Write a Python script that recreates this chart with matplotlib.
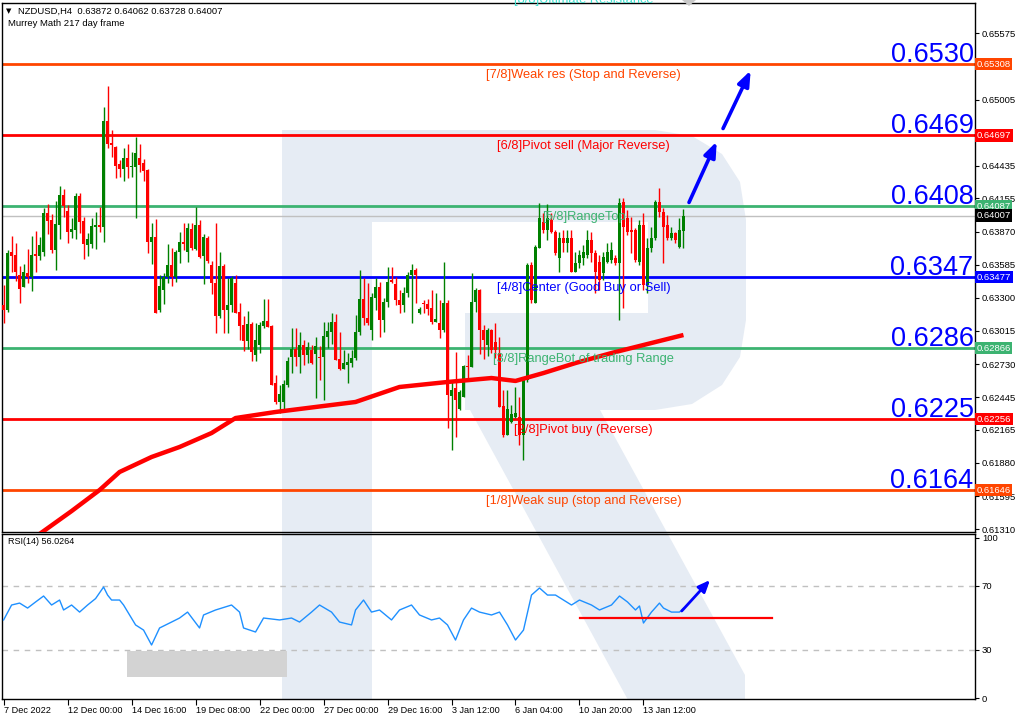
import matplotlib
matplotlib.use('Agg')
import matplotlib.pyplot as plt
import numpy as np
from matplotlib.patches import Polygon, Rectangle
import matplotlib.transforms as mtransforms

# ---------------- data ----------------
open_ = [0.63238,0.63195,0.63694,0.63668,0.63496,0.63393,0.63513,0.63479,0.63677,0.63659,
         0.63694,0.64029,0.63969,0.63711,0.63926,0.64184,0.64047,0.63866,0.63883,0.64176,
         0.63960,0.63754,0.63763,0.63909,0.63926,0.63909,0.64820,0.64631,0.64597,0.64451,
         0.64408,0.64502,0.64425,0.64425,0.64502,0.64459,0.64399,0.63780,0.63823,0.63195,
         0.63367,0.63479,0.63582,0.63479,0.63694,0.63780,0.63694,0.63892,0.63720,0.63926,
         0.63659,0.63814,0.63582,0.63427,0.63143,0.63573,0.63195,0.63238,0.63427,0.63178,
         0.63066,0.62928,0.63075,0.62808,0.62894,0.63057,0.63100,0.63057,0.62567,0.62404,
         0.62404,0.62550,0.62791,0.62860,0.62791,0.62894,0.62808,0.62851,0.62817,0.62791,
         0.62791,0.62963,0.63006,0.63092,0.62774,0.62688,0.62722,0.62739,0.62782,0.63006,
         0.63290,0.63126,0.63023,0.63298,0.63393,0.63109,0.63264,0.63453,0.63419,0.63281,
         0.63238,0.63341,0.63496,0.63539,0.63169,0.63255,0.63247,0.63212,0.63092,0.63083,
         0.63023,0.63255,0.62456,0.62524,0.62344,0.62447,0.62713,0.62705,0.63264,0.63367,
         0.63023,0.62894,0.63023,0.62920,0.62825,0.62369,0.62120,0.62232,0.62275,0.62275,
         0.62120,0.62593,0.63582,0.63255,0.63728,0.63952,0.63883,0.63969,0.63866,0.63642,
         0.63814,0.63771,0.63814,0.63522,0.63599,0.63642,0.63668,0.63797,0.63685,0.63608,
         0.63513,0.63608,0.63625,0.63642,0.63599,0.64124,0.63986,0.63883,0.63883,0.63608,
         0.63926,0.63410,0.63728,0.63814,0.64124,0.64038,0.63926,0.63814,0.63857,0.63737,
         0.63872]
high = [0.63410,0.63711,0.63831,0.63771,0.63573,0.63591,0.63720,0.63831,0.63874,0.63823,
        0.64073,0.64107,0.64021,0.64132,0.64262,0.64236,0.64098,0.63986,0.64202,0.64202,
        0.63995,0.63857,0.63986,0.64038,0.64081,0.64941,0.65121,0.64743,0.64605,0.64485,
        0.64588,0.64623,0.64554,0.64683,0.64623,0.64494,0.64408,0.63943,0.63978,0.63496,
        0.63513,0.63763,0.63728,0.63711,0.63866,0.63943,0.63943,0.63943,0.64081,0.63969,
        0.63849,0.63831,0.63616,0.63943,0.63694,0.63591,0.63470,0.63487,0.63496,0.63255,
        0.63143,0.63186,0.63092,0.63083,0.63092,0.63290,0.63290,0.63066,0.62636,0.62550,
        0.62593,0.62791,0.63040,0.63040,0.63006,0.62937,0.62920,0.62894,0.62963,0.62885,
        0.63092,0.63092,0.63169,0.63161,0.63006,0.62851,0.62825,0.62851,0.63152,0.63539,
        0.63470,0.63427,0.63341,0.63470,0.63436,0.63298,0.63565,0.63565,0.63479,0.63367,
        0.63393,0.63522,0.63591,0.63556,0.63221,0.63281,0.63290,0.63367,0.63341,0.63281,
        0.63608,0.63281,0.62576,0.62834,0.62507,0.62722,0.62808,0.63513,0.63384,0.63376,
        0.63066,0.63040,0.63032,0.63083,0.62963,0.62507,0.62507,0.62378,0.62533,0.62447,
        0.62593,0.63599,0.63608,0.63754,0.64115,0.64029,0.64107,0.64029,0.63883,0.63866,
        0.63883,0.63883,0.63883,0.63694,0.63711,0.63754,0.63883,0.63866,0.63711,0.63668,
        0.63694,0.63771,0.63780,0.63668,0.64158,0.64158,0.64055,0.63995,0.63900,0.63969,
        0.64029,0.63814,0.63909,0.64141,0.64245,0.64073,0.64012,0.63909,0.63866,0.63986,
        0.64062]
low = [0.63083,0.63178,0.63522,0.63444,0.63255,0.63393,0.63427,0.63358,0.63522,0.63625,
       0.63659,0.63849,0.63685,0.63539,0.63806,0.63995,0.63771,0.63814,0.63806,0.63857,
       0.63634,0.63659,0.63728,0.63720,0.63866,0.63780,0.64588,0.64511,0.64330,0.64339,
       0.64305,0.64330,0.64339,0.63986,0.64382,0.64305,0.63685,0.63591,0.63169,0.63178,
       0.63247,0.63427,0.63401,0.63436,0.63599,0.63711,0.63608,0.63711,0.63711,0.63642,
       0.63419,0.63599,0.63333,0.62997,0.63126,0.62997,0.62997,0.63178,0.63169,0.62937,
       0.62842,0.62860,0.62756,0.62756,0.62825,0.63040,0.63049,0.62550,0.62387,0.62309,
       0.62318,0.62533,0.62653,0.62713,0.62653,0.62722,0.62739,0.62731,0.62438,0.62593,
       0.62421,0.62868,0.62903,0.62765,0.62679,0.62688,0.62567,0.62705,0.62765,0.62980,
       0.63066,0.63066,0.62937,0.63195,0.62963,0.63006,0.63221,0.63427,0.63238,0.63169,
       0.63178,0.63307,0.63083,0.63255,0.63161,0.63169,0.63152,0.63075,0.63092,0.62954,
       0.63006,0.62180,0.61991,0.62103,0.62335,0.62447,0.62593,0.62705,0.63178,0.62817,
       0.62774,0.62799,0.62825,0.62782,0.62361,0.62103,0.62120,0.62223,0.62266,0.62034,
       0.61905,0.62576,0.63255,0.63255,0.63728,0.63857,0.63797,0.63857,0.63668,0.63522,
       0.63694,0.63694,0.63522,0.63522,0.63556,0.63582,0.63642,0.63608,0.63341,0.63367,
       0.63453,0.63599,0.63599,0.63582,0.63109,0.63212,0.63840,0.63685,0.63608,0.63582,
       0.63367,0.63341,0.63694,0.63797,0.63995,0.63599,0.63797,0.63797,0.63771,0.63728,
       0.63728]
close = [0.63195,0.63685,0.63659,0.63522,0.63376,0.63522,0.63479,0.63668,0.63659,0.63754,
         0.64029,0.63960,0.63711,0.63935,0.64184,0.64090,0.63866,0.63892,0.64176,0.63952,
         0.63763,0.63806,0.63917,0.63926,0.63909,0.64820,0.64623,0.64614,0.64433,0.64408,
         0.64502,0.64425,0.64433,0.64545,0.64442,0.64391,0.63780,0.63823,0.63169,0.63401,
         0.63479,0.63582,0.63479,0.63694,0.63780,0.63763,0.63900,0.63728,0.63926,0.63651,
         0.63823,0.63616,0.63427,0.63143,0.63573,0.63195,0.63238,0.63470,0.63169,0.63057,
         0.62928,0.63075,0.62834,0.62937,0.63066,0.63100,0.63049,0.62550,0.62404,0.62473,
         0.62559,0.62756,0.62860,0.62791,0.62894,0.62808,0.62877,0.62739,0.62885,0.62782,
         0.62971,0.63014,0.63092,0.62765,0.62688,0.62739,0.62748,0.62782,0.63006,0.63290,
         0.63126,0.63083,0.63307,0.63393,0.63109,0.63264,0.63436,0.63436,0.63281,0.63238,
         0.63341,0.63496,0.63539,0.63496,0.63204,0.63247,0.63204,0.63092,0.63118,0.63023,
         0.63255,0.62464,0.62507,0.62421,0.62490,0.62713,0.62705,0.63264,0.63367,0.63023,
         0.62937,0.63023,0.62851,0.62851,0.62361,0.62120,0.62344,0.62301,0.62309,0.62120,
         0.62593,0.63582,0.63281,0.63737,0.63986,0.63883,0.63986,0.63866,0.63685,0.63814,
         0.63771,0.63814,0.63522,0.63599,0.63668,0.63694,0.63797,0.63685,0.63522,0.63453,
         0.63651,0.63694,0.63711,0.63599,0.64115,0.63909,0.63866,0.63866,0.63625,0.63926,
         0.63410,0.63728,0.63814,0.64124,0.64038,0.63909,0.63814,0.63857,0.63797,0.63883,
         0.64007]

# moving average (bar index, value)
ma_idx = [9, 17, 24, 29, 37, 44, 52, 58, 68, 78, 88, 99, 111, 122, 128, 135, 143, 152, 160, 170]
ma_val = [0.61269, 0.61466, 0.61647, 0.61802, 0.61931, 0.62017, 0.62137, 0.62266, 0.62318,
          0.62361, 0.62404, 0.62533, 0.62576, 0.62610, 0.62585, 0.62653, 0.62739, 0.62825,
          0.62894, 0.62980]

# RSI(14) readings (bar index, value)
rsi_idx = [0, 2, 4, 6, 8, 10, 12, 14, 15, 17, 19, 21, 23, 25, 26, 27, 29, 30, 33, 35, 37, 39,
           42, 44, 46, 49, 50, 53, 57, 59, 60, 63, 65, 69, 72, 74, 77, 79, 82, 84, 87, 88, 90,
           92, 94, 97, 99, 102, 104, 107, 109, 111, 113, 115, 117, 119, 122, 124, 126, 128,
           130, 132, 134, 136, 138, 140, 142, 144, 147, 149, 152, 154, 156, 158, 159, 160,
           162, 164, 165, 167, 169, 170]
rsi_val = [48.7, 58.0, 59.2, 56.1, 59.9, 63.6, 58.0, 61.1, 54.9, 58.0, 53.6, 58.0, 62.0, 69.2,
           64.2, 61.1, 61.1, 58.0, 45.6, 42.4, 33.1, 43.7, 47.4, 49.9, 53.6, 43.7, 51.8, 54.9,
           58.0, 53.6, 43.7, 41.2, 49.9, 48.7, 49.9, 47.4, 53.6, 58.0, 53.6, 47.4, 45.6, 54.9,
           61.1, 53.6, 54.9, 48.7, 54.9, 58.0, 51.8, 48.7, 49.9, 45.6, 36.2, 48.7, 56.1, 53.6,
           51.8, 53.6, 45.6, 36.2, 42.4, 64.2, 68.6, 64.2, 64.2, 61.1, 58.0, 61.1, 58.0, 54.9,
           58.0, 63.6, 59.9, 54.9, 57.4, 46.8, 53.6, 59.2, 56.1, 53.6, 53.6, 56.0264]

# Murrey Math levels
mm_levels = [0.65308, 0.64697, 0.64087, 0.63477, 0.62866, 0.62256, 0.61646]
mm_short = ['0.6530', '0.6469', '0.6408', '0.6347', '0.6286', '0.6225', '0.6164']
mm_names = ['[7/8]Weak res (Stop and Reverse)', '[6/8]Pivot sell (Major Reverse)',
            '[5/8]RangeTop', '[4/8]Center (Good Buy or Sell)',
            '[3/8]RangeBot of trading Range', '[2/8]Pivot buy (Reverse)',
            '[1/8]Weak sup (stop and Reverse)']
mm_colors = ['#FF4500', '#FF0000', '#3CB371', '#0000FF', '#3CB371', '#FF0000', '#FF4500']
top_name = '[8/8]Ultimate Resistance'
last_price = 0.64007

price_ticks = [0.65575, 0.65290, 0.65005, 0.64720, 0.64435, 0.64155, 0.63870, 0.63585,
               0.63300, 0.63015, 0.62730, 0.62445, 0.62165, 0.61880, 0.61595, 0.61310]
hidden_ticks = [0.65290, 0.64720]
date_ticks = [0, 16, 32, 48, 64, 80, 96, 112, 128, 144, 160]
date_labels = ['7 Dec 2022', '12 Dec 00:00', '14 Dec 16:00', '19 Dec 08:00', '22 Dec 00:00',
               '27 Dec 00:00', '29 Dec 16:00', '3 Jan 12:00', '6 Jan 04:00', '10 Jan 20:00',
               '13 Jan 12:00']

# ---------------- figure ----------------
W, H = 1021, 721
plt.rcParams['font.family'] = ['Liberation Sans', 'DejaVu Sans']
fig = plt.figure(figsize=(W / 100, H / 100), dpi=100)
fig.patch.set_facecolor('white')


def fx(x):
    return x / W


def fy(y):
    return 1 - y / H


def add_shape(pts, color, z=-5):
    fig.patches.append(Polygon([(fx(x), fy(y)) for x, y in pts], closed=True,
                               transform=fig.transFigure, facecolor=color,
                               edgecolor='none', zorder=z))


# watermark "R" (figure pixel coords)
wm = '#E6ECF4'
add_shape([(282, 130), (372, 130), (372, 700), (282, 700)], wm)          # stem
add_shape([(372, 130), (655, 130), (692, 136), (722, 154), (740, 182), (746, 220),
           (746, 320), (740, 357), (722, 385), (692, 404), (655, 410), (465, 410),
           (465, 313), (648, 313), (648, 222), (372, 222)], wm)            # bowl
add_shape([(470, 410), (600, 410), (745, 675), (745, 700), (628, 700)], wm)  # leg
# small scroll marker at the top edge
add_shape([(682, 0), (696, 0), (689, 6)], '#C8C8C8', z=5)

ax = fig.add_axes([fx(2), fy(532), fx(975) - fx(2), fy(3) - fy(532)])
ax2 = fig.add_axes([fx(2), fy(699), fx(975) - fx(2), fy(534) - fy(699)], sharex=ax)
for a in (ax, ax2):
    a.set_facecolor('none')
    for s in a.spines.values():
        s.set_color('black')
        s.set_linewidth(1)

n = len(close)
idx = np.arange(n)
o = np.array(open_); c = np.array(close); h = np.array(high); l = np.array(low)
col = np.where(c >= o, '#008000', '#FF0000')
ax.vlines(idx, l, h, colors=col, lw=1, zorder=3)
body = np.maximum(np.abs(c - o), 0.00009)
ax.bar(idx, body, bottom=np.minimum(o, c), width=0.74, color=col, linewidth=0, zorder=3)

ax.plot(ma_idx, ma_val, color='#FF0000', lw=3.2, zorder=4, solid_capstyle='butt')

ax.axhline(last_price, color='#C0C0C0', lw=1, zorder=2)
yblend = mtransforms.blended_transform_factory(ax.transAxes, ax.transData)
for lev, name, colr, short in zip(mm_levels, mm_names, mm_colors, mm_short):
    ax.axhline(lev, color=colr, lw=2, zorder=2)
    ax.text(145.0, lev - 0.00090, name, color=colr, fontsize=9.3, ha='center', va='center', zorder=5)
    ax.text(0.9985, lev + 0.00082, short, color='#0000FF', fontsize=19.5,
            transform=yblend, ha='right', va='center', zorder=5)
ax.text(145.0, 0.65860, top_name, color='#40E0D0', fontsize=9.3, ha='center', va='center',
        clip_on=False, zorder=5)

ax.set_xlim(-0.4, 242.9)
ax.set_ylim(0.61286, 0.65835)
ax.yaxis.tick_right()
ax.set_yticks(price_ticks)
ax.set_yticklabels(['' if t in hidden_ticks else '%.5f' % t for t in price_ticks])
ax.tick_params(axis='y', direction='out', length=3, labelsize=6.8, pad=2, colors='black')
ax.tick_params(axis='x', bottom=False, labelbottom=False)

# price boxes on the right axis
box_vals = mm_levels + [last_price]
box_cols = mm_colors + ['#000000']
for v, bc in zip(box_vals, box_cols):
    ax.text(1.0015, v, '%.5f' % v, transform=yblend, fontsize=6.8, color='white', ha='left',
            va='center', clip_on=False, zorder=10,
            bbox=dict(boxstyle='square,pad=0.18', facecolor=bc, edgecolor='none'))

# arrows in price panel
ax.annotate('', xy=(178.6, 0.64665), xytext=(171.1, 0.64098),
            arrowprops=dict(arrowstyle='-|>,head_length=0.9,head_width=0.35', color='#0000FF', lw=2.6))
ax.annotate('', xy=(187.1, 0.65276), xytext=(179.6, 0.64734),
            arrowprops=dict(arrowstyle='-|>,head_length=0.9,head_width=0.35', color='#0000FF', lw=2.6))

# header texts
fig.text(fx(6), fy(11), '\u25BC', fontsize=5, color='black', va='center', ha='left',
         family='DejaVu Sans')
fig.text(fx(18), fy(11), 'NZDUSD,H4  0.63872 0.64062 0.63728 0.64007', fontsize=6.8,
         va='center', ha='left')
fig.text(fx(8), fy(24), 'Murrey Math 217 day frame', fontsize=6.8, va='center', ha='left')

# ---------------- RSI panel ----------------
ax2.plot(rsi_idx, rsi_val, color='#1E90FF', lw=1, zorder=3)
for lv in (70, 30):
    ax2.axhline(lv, color='#C0C0C0', lw=1, ls=(0, (4, 4)), zorder=1)
ax2.add_patch(Rectangle((30.9, 13.2), 40, 16.2, facecolor='#D3D3D3', edgecolor='none', zorder=2))
ax2.plot([144.1, 192.1], [49.9, 49.9], color='#FF0000', lw=1.6, zorder=4)
ax2.annotate('', xy=(177.1, 74.8), xytext=(169.1, 53.0),
             arrowprops=dict(arrowstyle='-|>,head_length=0.7,head_width=0.3', color='#0000FF', lw=2))
ax2.set_ylim(-0.5, 102.2)
ax2.yaxis.tick_right()
ax2.set_yticks([0, 30, 70, 100])
ax2.tick_params(axis='y', direction='out', length=3, labelsize=6.8, pad=2)
ax2.text(0.006, 0.955, 'RSI(14) 56.0264', transform=ax2.transAxes, fontsize=6.5, va='center', ha='left')
ax2.set_xticks(date_ticks)
ax2.set_xticklabels(date_labels, ha='left')
ax2.tick_params(axis='x', direction='out', length=4, labelsize=6.6, pad=1)
for lab in ax2.get_xticklabels():
    lab.set_horizontalalignment('left')

fig.savefig('out.png', dpi=100)
